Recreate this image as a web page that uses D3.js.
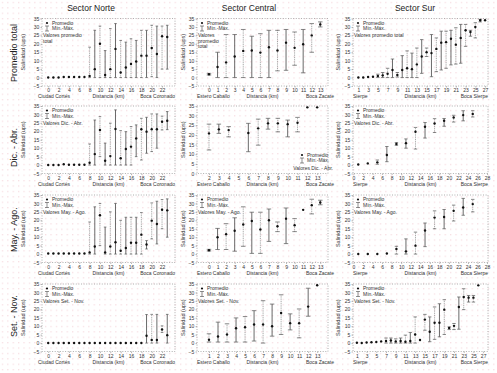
<!DOCTYPE html>
<html>
<head>
<meta charset="utf-8">
<script src="https://cdn.jsdelivr.net/npm/d3@7"></script>
<style>
body { margin: 0; background: #fff; }
svg { display: block; font-family: "Liberation Sans", Arial, sans-serif; }
</style>
</head>
<body>
<div id="chart"></div>
<script>
const N = null;

// Sector Norte (km 0 - 23)
const norteKm = [0,1,2,3,4,5,6,7,8,9,10,11,12,13,14,15,16,17,18,19,20,21,22,23];
const norteTotMean = [0,0,0,0.3,0.3,0.3,0.3,0.3,1,5,20,1.5,5,17,3,6,8,9.5,13,13,17.5,14,24.5,24];
const norteTotMin  = [N,N,N,N,N,N,N,N,0,0,0,0,0,0,0,0,0,0,0,0,0.5,0,5,5];
const norteTotMax  = [N,N,N,N,N,N,N,N,18,28,30.5,16,29,32,22,21,23,22,28,28,31,30.5,30.5,31];
const norteDicMean = [0,0,0,0.5,0.2,0.2,0.2,0.2,1.4,6.5,20.8,2.6,5.3,21.4,4,9.5,10.9,15.8,21.2,19.8,21.2,21.2,25.7,26.3];
const norteDicMin  = [N,N,N,N,N,N,N,N,0,0,5,0,0,0,0,0,0,5,3,7,8,10,20.8,21];
const norteDicMax  = [N,N,N,N,N,N,N,N,12.5,26.7,28.7,13,24.8,32.7,20.4,19.8,22.8,23.8,27.7,28.3,30.3,30.3,29,31.7];
const norteMayMean = [0.3,0.3,0.3,0.3,0.3,0.3,0.3,0.3,1,4.5,23,1,4.5,7,2,3.6,6.7,6.7,11.5,5.7,19.8,17.8,26.3,25.9];
const norteMayMin  = [N,N,N,N,N,N,N,N,0,0,5,0,0,0,0,0,0,0,0,3,9,6,15,10];
const norteMayMax  = [N,N,N,N,N,N,N,N,19,28,30,16,25,30,20,21.8,21.8,21.8,24.6,8,30.3,31.3,32.3,32.7];
const norteSetMean = [0,0,0,0,0,0,0,0,0,0,0,0,0,0,0,0,0,0,0,4.3,1.8,1.8,8,4.7];
const norteSetMin  = [N,N,N,N,N,N,N,N,N,N,N,N,N,N,N,N,N,N,N,0,0,0,6.3,0];
const norteSetMax  = [N,N,N,N,N,N,N,N,N,N,N,N,N,N,N,N,N,N,N,16.9,17,17,10.2,17];

// Sector Central
const centralKm = [0,1,2,3,4,5,6,7,8,9,10,11,12,13];
const centralTotMean = [2,6.3,9,12.5,15.8,16,14.8,18,16,20.7,17.6,19.7,25,31.5];
const centralTotMin  = [1.5,0,0,0,0,0,0,0,4,4.3,7.3,2.8,15,30];
const centralTotMax  = [2.5,15,25.5,25.5,28.5,24.5,26,28,28,28.5,27,28.5,32,33];
const centralDicKm   = [2,3,4,6,7,8,9,10,11,12,13];
const centralDicMean = [20.8,22.9,22.5,21,23.4,26,26,25.6,26.3,34.3,34.3];
const centralDicMin  = [12.2,20.8,19,11.3,14.7,23,21.6,19,21.6,N,N];
const centralDicMax  = [25.6,25.6,24.3,26,28.2,28.6,28.6,27.7,29.1,N,N];
const centralMayMean = [2.3,10,11.7,13.8,17.5,19.6,14.6,20,16.5,21,17.1,26.2,29,30.6];
const centralMayMin  = [1.8,2.7,2.7,1.7,4.6,0.4,0.4,7.5,13.3,6.2,13.3,N,23.8,29.2];
const centralMayMax  = [2.8,15.2,18,21.5,28,24.8,24.8,26.7,19,27.3,21,N,32.5,31.9];
const centralSetKm   = [1,2,3,4,5,6,7,8,9,10,11,12,13];
const centralSetMean = [2,3.9,5.1,8.8,9.4,11,11,10,17.8,11.8,11.8,21.6,34.3];
const centralSetMin  = [0.6,0.6,0.6,0.6,0.6,1.2,0,4.1,5.1,7.8,3.1,15.9,N];
const centralSetMax  = [5.5,12.4,11.4,14.9,15.7,19.2,25.1,23.1,28.6,17.3,20.2,32.5,N];

// Sector Sur
const surKm = [1,2,3,4,5,6,7,8,9,10,11,12,13,14,15,16,17,18,19,20,21,22,23,24,25,26,27];
const surTotMean = [0,0,0.3,0.5,1,1.3,2.3,4.5,1.5,4.5,5.5,5,7.8,12.5,15,14.5,17,20.7,21,23,19.5,23.5,28,27,30,34,34];
const surTotMin  = [N,N,N,N,0,0,0,0,0.3,0,0,0,0,2.5,12.5,0.5,3.5,4.5,5.5,7.5,8,8.5,18.5,24.5,23.5,33,N];
const surTotMax  = [N,N,N,N,2,3,5.5,11,3,13,15.8,14.5,17.5,22.5,17.5,25.5,23.5,27.5,27.5,28,29.5,31.5,31.5,28,32.5,34.5,N];
const surOddKm   = [1,3,5,7,9,11,13,15,17,19,21,23,25];
const surDicMean = [0.3,1,1.6,6,12.5,13,19.7,22.7,24.6,26.3,28.2,29.6,30.3];
const surDicMin  = [N,N,0.5,2,11.7,10,9.5,16,19.3,23,25.5,26.2,28.5];
const surDicMax  = [N,N,3,11,13.3,15.5,22.3,25.2,27.5,27.6,29.5,32.2,32.2];
const surMayMean = [0,0,0,0.3,3,1.6,5,14,21.6,22,25.6,27.6,29.6];
const surMayMin  = [N,N,N,N,0,0,0,4.4,15,15,19.6,23,25];
const surMayMax  = [N,N,N,N,4.6,9,13,18.4,25.6,26.4,29,33,32.4];
const surSetKm   = [1,2,3,4,5,6,7,8,9,10,11,12,13,14,15,16,17,18,19,20,21,22,23,24,25,26];
const surSetMean = [0.2,0,0.3,0.5,0.6,1,1.2,1.5,1,1.2,0.8,1.2,5.1,1.8,13.9,6.7,12,12,19.8,9,10.2,21.4,27.3,26.9,26.9,34.2];
const surSetMin  = [N,N,N,N,N,N,0,0,0,0,0,0,0,N,7.6,0.8,2.2,3.7,5.1,8,8,8.2,19.8,24.3,24.3,N];
const surSetMax  = [N,N,N,N,N,N,3,3,2.5,3,4.7,6.3,15.5,N,17,15.5,21.4,23.3,25.7,9.6,11.6,27.3,32.2,28.2,28.2,N];

const sectors = ["Sector Norte", "Sector Central", "Sector Sur"];
const seasons = ["Promedio total", "Dic. - Abr.", "May. - Ago.", "Set. - Nov."];
const valoresLabels = [
    [["Valores promedio", "total"], ["Valores", "promedio", "total"], ["Valores promedio total"]],
    [["Valores Dic. - Abr."], ["Valores Dic. - Abr."], ["Valores Dic. - Abr."]],
    [["Valores May. - Ago."], ["Valores May. - Ago."], ["Valores May. - Ago."]],
    [["Valores Set. - Nov."], ["Valores Set. - Nov."], ["Valores Set. - Nov."]]
];
const places = [
    ["Ciudad Cortés", "Distancia (km)", "Boca Coronado"],
    ["Estero Caballo", "Distancia (km)", "Boca Zacate"],
    ["Sierpe", "Distancia (km)", "Boca Sierpe"]
];

// layout
const W = 497, H = 373;
const cols = [
    {left: 42, right: 175, ylab: 25, cap: 2.6, title: 91},
    {left: 197, right: 328, ylab: 185, cap: 4.5, title: 249},
    {left: 353, right: 488, ylab: 340, cap: 3.4, title: 415}
];
const rowTop = [18.5, 106, 195, 284];
const plotH = 67.5;
const seasonY = [82, 167, 252, 337];

const panels = [
    {row:0, col:0, km:norteKm, mean:norteTotMean, min:norteTotMin, max:norteTotMax, xd:[-1.2,24.5], ticks:[0,2,4,6,8,10,12,14,16,18,20,22]},
    {row:1, col:0, km:norteKm, mean:norteDicMean, min:norteDicMin, max:norteDicMax, xd:[-1.2,24.5], ticks:[0,2,4,6,8,10,12,14,16,18,20,22]},
    {row:2, col:0, km:norteKm, mean:norteMayMean, min:norteMayMin, max:norteMayMax, xd:[-1.2,24.5], ticks:[0,2,4,6,8,10,12,14,16,18,20,22]},
    {row:3, col:0, km:norteKm, mean:norteSetMean, min:norteSetMin, max:norteSetMax, xd:[-1.2,24.5], ticks:[0,2,4,6,8,10,12,14,16,18,20,22]},
    {row:0, col:1, km:centralKm, mean:centralTotMean, min:centralTotMin, max:centralTotMax, xd:[-1.4,13.9], ticks:[0,1,2,3,4,5,6,7,8,9,10,11,12,13]},
    {row:1, col:1, km:centralDicKm, mean:centralDicMean, min:centralDicMin, max:centralDicMax, xd:[0.78,14.1], ticks:[2,3,4,5,6,7,8,9,10,11,12,13], yd:[0,35], legendBR:true},
    {row:2, col:1, km:centralKm, mean:centralMayMean, min:centralMayMin, max:centralMayMax, xd:[-1.4,13.9], ticks:[0,1,2,3,4,5,6,7,8,9,10,11,12,13]},
    {row:3, col:1, km:centralSetKm, mean:centralSetMean, min:centralSetMin, max:centralSetMax, xd:[-0.33,14.2], ticks:[1,2,3,4,5,6,7,8,9,10,11,12,13]},
    {row:0, col:2, km:surKm, mean:surTotMean, min:surTotMin, max:surTotMax, xd:[-0.1,27.6], ticks:[1,3,5,7,9,11,13,15,17,19,21,23,25,27]},
    {row:1, col:2, km:surOddKm, mean:surDicMean, min:surDicMin, max:surDicMax, xd:[-0.1,28.2], ticks:[0,2,4,6,8,10,12,14,16,18,20,22,24,26,28]},
    {row:2, col:2, km:surOddKm, mean:surMayMean, min:surMayMin, max:surMayMax, xd:[-0.1,28.2], ticks:[0,2,4,6,8,10,12,14,16,18,20,22,24,26,28]},
    {row:3, col:2, km:surSetKm, mean:surSetMean, min:surSetMin, max:surSetMax, xd:[0.2,28], ticks:[1,3,5,7,9,11,13,15,17,19,21,23,25,27]}
];

const svg = d3.select("#chart").append("svg")
    .attr("width", W)
    .attr("height", H);

// faint dotted paper background
const defs = svg.append("defs");
defs.append("pattern")
    .attr("id", "dots")
    .attr("width", 5.4).attr("height", 5.4)
    .attr("patternUnits", "userSpaceOnUse")
    .append("rect")
    .attr("x", 2).attr("y", 2).attr("width", 1).attr("height", 1)
    .attr("fill", "#f1c9cf");
svg.append("rect").attr("width", W).attr("height", H).attr("fill", "#fff");
svg.append("rect").attr("width", W).attr("height", H).attr("fill", "url(#dots)");

// column titles
sectors.forEach((s, i) => {
    svg.append("text")
        .attr("x", cols[i].title).attr("y", 11)
        .attr("text-anchor", "middle")
        .attr("font-size", 8.5)
        .attr("fill", "#222")
        .text(s);
});

// row titles
seasons.forEach((s, i) => {
    svg.append("text")
        .attr("transform", `translate(17,${seasonY[i]}) rotate(-90)`)
        .attr("font-size", 9)
        .attr("fill", "#222")
        .text(s);
});

panels.forEach(function(p, pi) {
    let col = cols[p.col];
    let top = rowTop[p.row], bottom = top + plotH;
    let yd = p.yd || [-5, 35];

    let x = d3.scaleLinear().domain(p.xd).range([col.left, col.right]);
    let y = d3.scaleLinear().domain(yd).range([bottom, top]);

    let g = svg.append("g");

    // dotted frame
    g.append("rect")
        .attr("x", col.left).attr("y", top)
        .attr("width", col.right - col.left).attr("height", plotH)
        .attr("fill", "none")
        .attr("stroke", "#9a9a9a")
        .attr("stroke-width", 0.8)
        .attr("stroke-dasharray", "1,1.6");

    // axes
    let xAxis = g.append("g")
        .attr("transform", `translate(0,${bottom})`)
        .call(d3.axisBottom(x).tickValues(p.ticks).tickSize(1.5).tickPadding(1.2));
    let yAxis = g.append("g")
        .attr("transform", `translate(${col.left},0)`)
        .call(d3.axisLeft(y).tickValues(d3.range(yd[0], 36, 5)).tickSize(1.5).tickPadding(1.2));
    [xAxis, yAxis].forEach(a => {
        a.select(".domain").remove();
        a.selectAll("line").attr("stroke", "#888").attr("stroke-width", 0.6);
        a.selectAll("text").attr("font-size", 5).attr("fill", "#333").attr("font-family", null);
    });

    // y label
    g.append("text")
        .attr("transform", `translate(${col.ylab},${(top + bottom) / 2}) rotate(-90)`)
        .attr("text-anchor", "middle")
        .attr("font-size", 5.5)
        .attr("fill", "#333")
        .text("Salinidad (ups)");

    // place names
    let pl = places[p.col];
    let ny = bottom + 12;
    g.append("text").attr("x", col.left - (p.col === 0 ? 4 : 0)).attr("y", ny)
        .attr("font-size", 5).attr("fill", "#333").text(pl[0]);
    g.append("text").attr("x", (col.left + col.right) / 2).attr("y", ny)
        .attr("text-anchor", "middle").attr("font-size", 5).attr("fill", "#333").text(pl[1]);
    g.append("text").attr("x", col.right + (p.col === 1 ? 6 : 0)).attr("y", ny)
        .attr("text-anchor", "end").attr("font-size", 5).attr("fill", "#333").text(pl[2]);

    // error bars
    let rows = p.km.map((k, i) => ({k: k, mean: p.mean[i], min: p.min[i], max: p.max[i], i: i}));
    let bars = rows.filter(d => d.min !== null);

    let eb = g.selectAll(".eb").data(bars).enter().append("g");
    eb.append("line")
        .attr("x1", d => x(d.k)).attr("x2", d => x(d.k))
        .attr("y1", d => y(d.min)).attr("y2", d => y(d.max))
        .attr("stroke", d => d.i % 2 ? "#444" : "#8c8c8c")
        .attr("stroke-width", 0.8)
        .attr("stroke-dasharray", d => d.i % 2 ? null : "1,0.8");
    ["min", "max"].forEach(key => {
        eb.append("line")
            .attr("x1", d => x(d.k) - col.cap / 2).attr("x2", d => x(d.k) + col.cap / 2)
            .attr("y1", d => y(d[key])).attr("y2", d => y(d[key]))
            .attr("stroke", "#555")
            .attr("stroke-width", 0.7);
    });

    g.selectAll(".pt").data(rows).enter().append("circle")
        .attr("cx", d => x(d.k))
        .attr("cy", d => y(d.mean))
        .attr("r", 1.2)
        .attr("fill", "#111");

    // legend
    let lab = valoresLabels[p.row][p.col];
    let lg = g.append("g").attr("font-size", 5).attr("fill", "#333");
    let lx, ly;
    if (p.legendBR) {
        lx = col.right - 26; ly = bottom - 17;
    } else {
        lx = col.left + 5; ly = top + 6;
    }
    lg.append("circle").attr("cx", lx).attr("cy", ly - 1.5).attr("r", 1.1).attr("fill", "#111");
    lg.append("text").attr("x", lx + 5).attr("y", ly).text("Promedio");
    lg.append("line").attr("x1", lx).attr("x2", lx).attr("y1", ly + 1.5).attr("y2", ly + 6.5)
        .attr("stroke", "#444").attr("stroke-width", 0.6);
    [ly + 1.5, ly + 6.5].forEach(v => {
        lg.append("line").attr("x1", lx - 2).attr("x2", lx + 2).attr("y1", v).attr("y2", v)
            .attr("stroke", "#444").attr("stroke-width", 0.6);
    });
    lg.append("text").attr("x", lx + 5).attr("y", ly + 5.5).text("Mín.-Máx.");
    lab.forEach((t, j) => {
        if (p.legendBR) {
            lg.append("text").attr("x", col.right + 5).attr("y", ly + 13.5 + j * 5.5)
                .attr("text-anchor", "end").text(t);
        } else {
            lg.append("text").attr("x", lx - 4).attr("y", ly + 12.5 + j * 5.5).text(t);
        }
    });
});
</script>
</body>
</html>
